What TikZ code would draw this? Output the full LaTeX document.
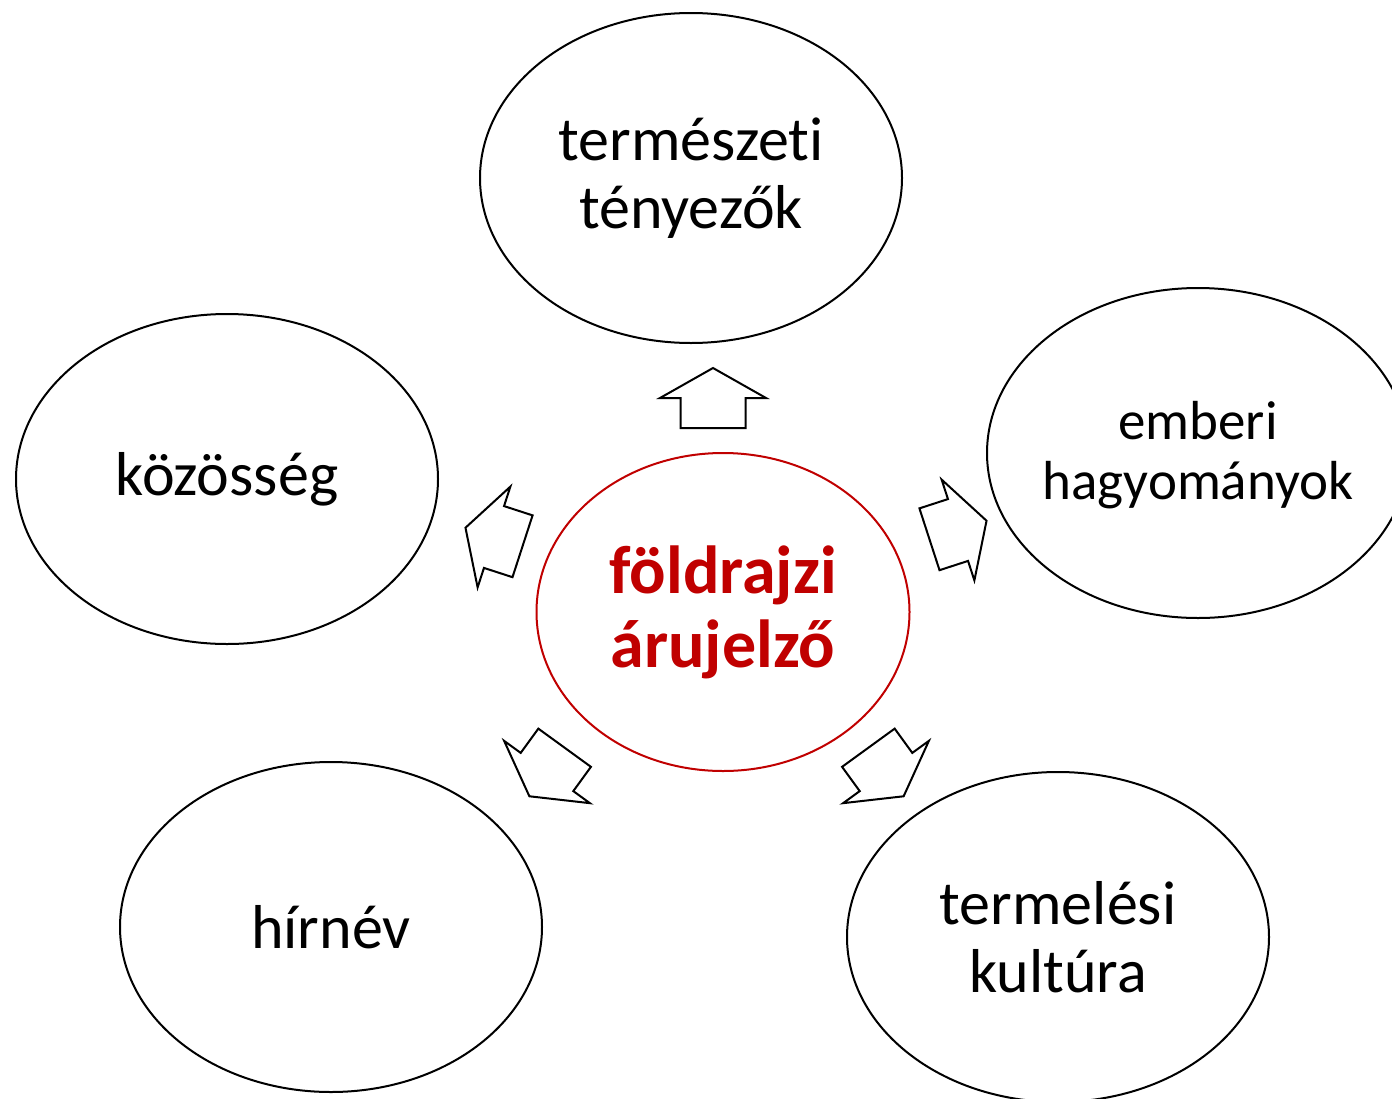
\documentclass[tikz,border=0pt]{standalone}
\usepackage{fontspec}
\setmainfont{Carlito}[Ligatures=NoCommon]
\usetikzlibrary{shapes.geometric}
\definecolor{gired}{RGB}{192,0,0}
\tikzset{
  x=1pt, y=-1pt,
  bubble/.style={draw=black, line width=2pt, ellipse, minimum width=422pt, minimum height=330pt, inner sep=0pt},
  bubbletext/.style={align=center, inner sep=0pt, font=\fontsize{62}{68}\selectfont},
  centerbubble/.style={draw=gired, line width=2pt, ellipse, minimum width=373pt, minimum height=318pt, inner sep=0pt},
  centertext/.style={align=center, inner sep=0pt, text=gired, font=\fontsize{68}{74}\selectfont\bfseries},
  blockarrow/.style={draw=black, line width=2pt, fill=white, line join=miter}
}
\newcommand{\blockarr}[3]{%
  \draw[blockarrow, shift={(#1,#2)}, rotate=#3]
    (30,0) -- (0,53) -- (0,32.5) -- (-30,32.5) -- (-30,-32.5) -- (0,-32.5) -- (0,-53) -- cycle;}
\begin{document}
\begin{tikzpicture}
\useasboundingbox (0,0) rectangle (1392,1098);
\node[bubble] (top) at (691,178) {};
\node[bubble] (left) at (227,479) {};
\node[bubble] (right) at (1198,453) {};
\node[bubble] (bl) at (331,927) {};
\node[bubble] (br) at (1058,937) {};
\node[centerbubble] (center) at (723,612) {};
\node[bubbletext] (toptext) at (top.center) {természeti\\tényezők};
\node[bubbletext] (lefttext) at (left.center) {közösség};
\node[bubbletext, font=\fontsize{55}{60}\selectfont] (righttext) at ([yshift=-2pt]right.center) {emberi\\hagyományok};
\node[bubbletext] (bltext) at (bl.center) {hírnév};
\node[bubbletext] (brtext) at (br.center) {termelési\\kultúra};
\node[centertext] (centertxt) at (center.center) {földrajzi\\árujelző};
\blockarr{713}{398}{90}
\blockarr{958}{530}{18}
\blockarr{886}{772}{-54}
\blockarr{547}{772}{-126}
\blockarr{494}{537}{162}
\end{tikzpicture}
\end{document}
